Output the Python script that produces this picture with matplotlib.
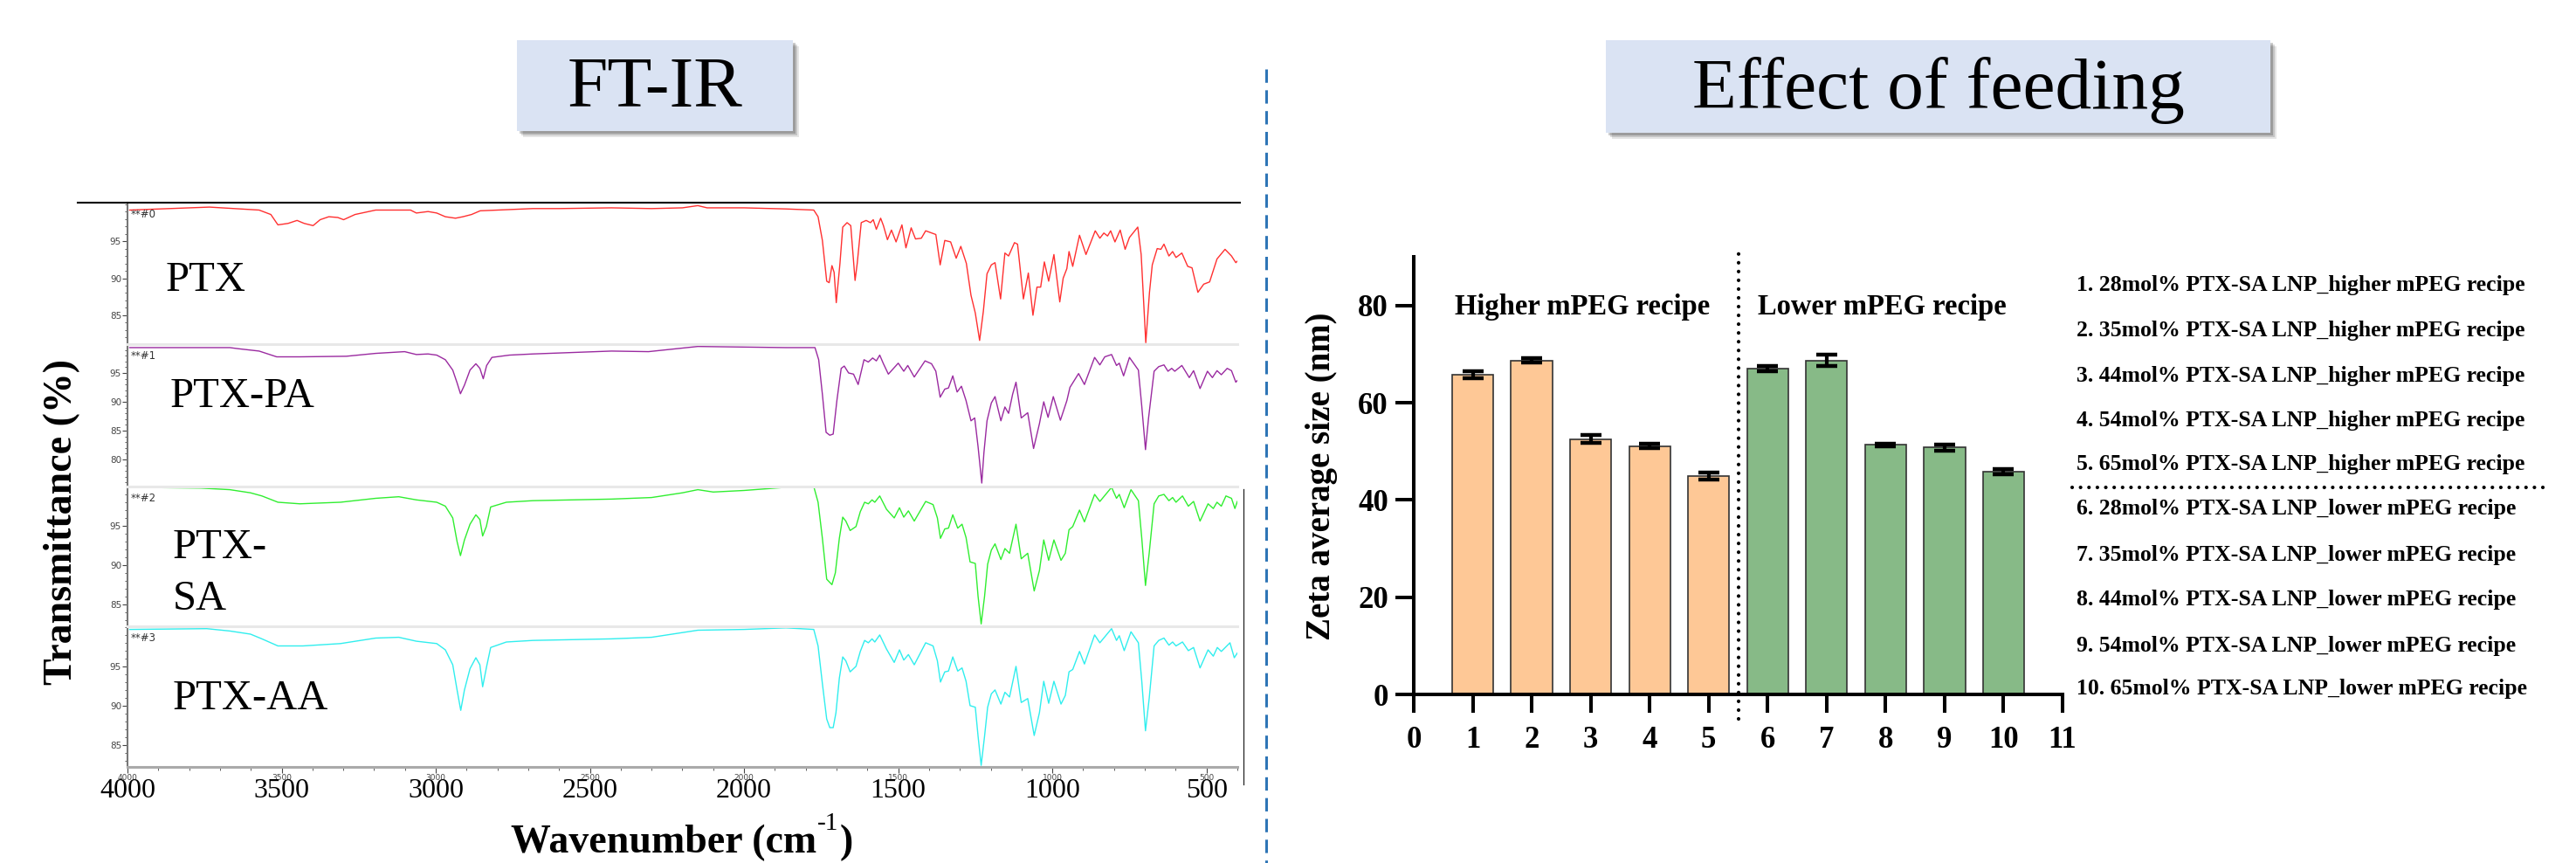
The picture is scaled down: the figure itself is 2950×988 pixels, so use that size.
import numpy as np
import matplotlib
matplotlib.use("Agg")
import matplotlib.pyplot as plt
from matplotlib.patches import Rectangle
from matplotlib.lines import Line2D

W, H = 2950, 988

# FT-IR spectra: wavenumber (cm-1) and transmittance (%)
ptx_wn = [3993, 3734, 3573, 3535, 3512, 3479, 3450, 3427, 3398, 3375, 3347, 3318, 3299, 3262,
          3195, 3082, 3063, 3025, 2997, 2969, 2936, 2912, 2884, 2856, 2685, 2600, 2430, 2300,
          2200, 2150, 2120, 2000, 1864, 1774, 1760, 1746, 1732, 1724, 1715, 1708, 1701, 1689,
          1680, 1666, 1654, 1640, 1633, 1620, 1604, 1590, 1581, 1571, 1557, 1548, 1535, 1522,
          1507, 1488, 1475, 1458, 1444, 1425, 1411, 1378, 1364, 1349, 1330, 1312, 1297, 1279,
          1264, 1250, 1236, 1224, 1212, 1198, 1186, 1168, 1154, 1142, 1123, 1113, 1094, 1078,
          1063, 1050, 1038, 1026, 1012, 995, 976, 965, 953, 946, 934, 912, 891, 861, 846, 833,
          821, 811, 797, 780, 764, 750, 723, 712, 703, 697, 685, 676, 660, 648, 638, 622, 610,
          599, 580, 561, 547, 528, 509, 490, 466, 440, 419, 405, 400]
ptx_t = [99.2, 99.6, 99.2, 98.6, 97.2, 97.4, 97.8, 97.4, 97.1, 97.9, 98.3, 98.2, 97.9, 98.6,
         99.2, 99.2, 98.8, 99.0, 98.8, 98.3, 98.1, 98.3, 98.6, 99.1, 99.4, 99.4, 99.5, 99.4,
         99.5, 99.8, 99.5, 99.5, 99.35, 99.2, 98.3, 95.1, 89.6, 89.4, 91.7, 90.8, 86.7, 92.0,
         96.9, 97.5, 97.1, 89.7, 92.0, 97.5, 97.8, 97.5, 97.9, 96.6, 98.1, 97.1, 95.2, 96.5,
         94.9, 97.2, 94.1, 96.8, 95.3, 95.4, 96.4, 95.9, 91.8, 95.1, 94.9, 92.7, 94.3, 92.0,
         87.7, 85.3, 81.6, 85.5, 90.6, 91.8, 92.1, 87.2, 93.4, 93.0, 94.8, 94.6, 87.2, 90.7,
         85.0, 88.8, 88.8, 92.2, 89.6, 93.2, 86.8, 90.0, 91.3, 93.6, 91.6, 95.8, 93.2, 96.4,
         95.4, 96.1, 95.7, 96.4, 94.9, 96.5, 93.9, 95.5, 96.9, 93.2, 86.1, 81.3, 88.1, 91.8,
         94.0, 93.9, 94.6, 93.0, 93.6, 92.8, 93.4, 91.6, 91.4, 88.1, 89.2, 89.5, 92.6, 93.9,
         93.0, 92.1, 92.3]

pa_wn = [3993, 3668, 3639, 3573, 3516, 3441, 3290, 3195, 3101, 3063, 3025, 2997, 2969, 2945,
         2931, 2920, 2907, 2889, 2870, 2857, 2846, 2835, 2818, 2761, 2685, 2430, 2310, 2150,
         1864, 1770, 1758, 1746, 1734, 1722, 1711, 1699, 1685, 1675, 1661, 1645, 1630, 1611,
         1597, 1583, 1571, 1560, 1548, 1532, 1500, 1482, 1469, 1448, 1413, 1392, 1378, 1364,
         1349, 1337, 1323, 1309, 1295, 1280, 1264, 1252, 1241, 1229, 1222, 1212, 1198, 1186,
         1167, 1154, 1142, 1129, 1118, 1101, 1080, 1061, 1042, 1028, 1014, 997, 974, 953, 943,
         915, 896, 863, 846, 830, 808, 792, 783, 769, 750, 721, 710, 698, 688, 670, 655, 638,
         625, 613, 603, 580, 556, 542, 521, 497, 481, 466, 452, 433, 419, 405, 400]
pa_t = [99.4, 99.4, 99.2, 98.8, 97.8, 97.8, 97.9, 98.4, 98.7, 98.2, 98.3, 98.1, 97.3, 95.5,
        93.3, 91.4, 92.9, 95.5, 96.6, 95.8, 94.0, 96.3, 97.7, 98.1, 98.3, 98.8, 98.7, 99.6,
        99.4, 99.4, 97.3, 91.3, 84.7, 84.2, 84.4, 90.2, 95.8, 96.2, 95.0, 94.8, 93.0, 97.3,
        96.9, 97.6, 97.1, 98.1, 96.6, 94.8, 96.7, 95.3, 96.3, 94.3, 97.1, 96.6, 95.3, 90.8,
        92.2, 92.4, 94.5, 91.7, 92.7, 90.2, 86.7, 87.2, 82.2, 75.9, 81.2, 86.7, 89.8, 90.9,
        86.7, 89.1, 88.0, 91.3, 93.4, 87.2, 88.1, 81.9, 86.2, 90.0, 87.3, 90.9, 86.8, 90.2,
        92.5, 94.9, 93.0, 97.7, 96.4, 97.8, 98.2, 96.3, 96.7, 94.5, 97.7, 95.5, 89.2, 81.7,
        87.2, 95.3, 96.1, 96.4, 95.3, 95.8, 95.3, 96.3, 94.2, 95.4, 92.3, 95.3, 94.2, 95.4,
        94.7, 95.8, 95.4, 93.4, 93.7]

sa_wn = [3993, 3762, 3668, 3601, 3564, 3512, 3441, 3309, 3195, 3120, 3063, 2997, 2969, 2945,
         2931, 2920, 2907, 2889, 2870, 2857, 2848, 2836, 2822, 2771, 2685, 2430, 2300, 2200,
         2150, 2100, 2000, 1864, 1774, 1760, 1746, 1732, 1715, 1704, 1691, 1680, 1670, 1656,
         1637, 1623, 1609, 1597, 1585, 1576, 1560, 1538, 1513, 1496, 1482, 1467, 1448, 1411,
         1387, 1373, 1363, 1349, 1337, 1323, 1307, 1293, 1280, 1267, 1250, 1241, 1231, 1220,
         1210, 1198, 1186, 1167, 1154, 1139, 1118, 1101, 1080, 1059, 1042, 1028, 1012, 995,
         972, 958, 946, 934, 912, 896, 863, 846, 808, 792, 783, 767, 745, 721, 710, 698, 686,
         670, 655, 638, 622, 610, 599, 578, 559, 542, 521, 495, 478, 466, 452, 437, 419, 408,
         400]
sa_t = [99.9, 99.8, 99.6, 99.2, 98.8, 98.0, 97.8, 98.0, 98.5, 98.7, 98.3, 98.0, 97.5, 96.0,
        93.0, 91.2, 93.2, 95.2, 96.4, 95.8, 93.7, 94.9, 97.4, 98.0, 98.2, 98.4, 98.6, 99.2,
        99.6, 99.3, 99.5, 99.9, 100.0, 98.0, 93.4, 88.2, 87.5, 89.0, 93.4, 96.1, 95.6, 94.4,
        94.9, 96.8, 98.0, 97.8, 98.3, 98.0, 98.8, 97.1, 96.0, 97.3, 96.1, 96.9, 95.6, 98.1,
        97.7, 96.0, 93.4, 94.6, 94.7, 96.4, 94.7, 95.2, 93.5, 90.4, 90.2, 86.0, 82.5, 86.0,
        90.1, 91.9, 92.7, 90.7, 92.1, 91.5, 95.2, 90.8, 91.5, 86.7, 89.3, 93.2, 90.6, 93.2,
        90.6, 91.5, 94.5, 94.9, 97.0, 95.5, 99.0, 98.1, 99.9, 98.5, 99.0, 97.3, 99.6, 98.2,
        93.4, 87.4, 91.5, 97.8, 98.8, 99.0, 98.2, 98.6, 98.0, 98.8, 97.5, 98.1, 95.6, 97.8,
        97.2, 98.0, 97.5, 98.8, 98.5, 97.2, 98.1]

aa_wn = [3993, 3743, 3668, 3601, 3564, 3512, 3431, 3309, 3195, 3120, 3063, 2997, 2969, 2945,
         2931, 2919, 2907, 2889, 2870, 2857, 2848, 2835, 2822, 2771, 2685, 2430, 2300, 2150,
         2000, 1864, 1774, 1760, 1746, 1732, 1722, 1711, 1702, 1691, 1680, 1670, 1656, 1637,
         1623, 1609, 1597, 1585, 1576, 1560, 1538, 1513, 1496, 1482, 1467, 1448, 1411, 1387,
         1373, 1363, 1349, 1337, 1323, 1307, 1293, 1280, 1267, 1250, 1241, 1231, 1220, 1210,
         1198, 1186, 1167, 1154, 1139, 1118, 1101, 1080, 1059, 1042, 1028, 1012, 995, 972, 958,
         946, 934, 912, 896, 863, 846, 808, 792, 783, 767, 745, 721, 710, 698, 686, 670, 655,
         638, 622, 610, 599, 578, 559, 542, 521, 495, 478, 465, 452, 424, 410, 400]
aa_t = [99.7, 99.8, 99.5, 99.1, 98.5, 97.6, 97.6, 97.9, 98.6, 98.7, 98.2, 97.9, 97.1, 95.2,
        92.0, 89.4, 92.0, 94.7, 96.1, 95.2, 92.4, 95.0, 97.4, 98.1, 98.3, 98.5, 98.7, 99.6,
        99.7, 99.9, 99.7, 97.6, 92.8, 88.3, 87.2, 87.2, 89.1, 93.5, 96.2, 95.7, 94.3, 95.0,
        96.9, 98.3, 98.0, 98.5, 98.1, 99.0, 97.2, 95.5, 97.1, 95.8, 96.5, 95.2, 98.0, 97.6,
        95.7, 93.0, 94.3, 94.4, 96.2, 94.4, 94.8, 93.1, 90.0, 89.8, 86.1, 82.4, 86.1, 89.8,
        91.5, 92.0, 90.2, 91.7, 91.1, 95.0, 90.4, 90.9, 86.2, 89.1, 93.1, 90.3, 93.1, 90.2,
        91.3, 94.3, 94.6, 96.9, 95.3, 99.0, 98.0, 99.8, 98.3, 98.9, 97.0, 99.4, 98.0, 93.1,
        86.8, 90.9, 97.6, 98.3, 98.6, 97.7, 98.1, 97.6, 98.1, 97.0, 97.4, 94.8, 97.1, 96.3,
        97.4, 96.9, 98.0, 96.1, 96.7]

spectra = [(ptx_wn, ptx_t), (pa_wn, pa_t), (sa_wn, sa_t), (aa_wn, aa_t)]
strip_tags = ["**#0", "**#1", "**#2", "**#3"]
strip_colors = ["#ff3030", "#9a2aa0", "#30ee30", "#30eeee"]
strip_ylim = [(81.1, 100.2), (75.3, 100.0), (82.2, 100.0), (82.2, 100.1)]
strip_ticks = [[85, 90, 95], [80, 85, 90, 95], [85, 90, 95], [85, 90, 95]]
wn_ticks = [4000, 3500, 3000, 2500, 2000, 1500, 1000, 500]

# zeta average size
bar_pos = np.arange(1, 11)
bar_size = [65.8, 68.7, 52.5, 51.1, 44.9, 67.0, 68.7, 51.3, 50.8, 45.8]
bar_err = [0.7, 0.5, 0.8, 0.5, 0.7, 0.6, 1.1, 0.3, 0.6, 0.6]
legend_items = ["1. 28mol% PTX-SA LNP_higher mPEG recipe",
                "2. 35mol% PTX-SA LNP_higher mPEG recipe",
                "3. 44mol% PTX-SA LNP_higher mPEG recipe",
                "4. 54mol% PTX-SA LNP_higher mPEG recipe",
                "5. 65mol% PTX-SA LNP_higher mPEG recipe",
                "6. 28mol% PTX-SA LNP_lower mPEG recipe",
                "7. 35mol% PTX-SA LNP_lower mPEG recipe",
                "8. 44mol% PTX-SA LNP_lower mPEG recipe",
                "9. 54mol% PTX-SA LNP_lower mPEG recipe",
                "10. 65mol% PTX-SA LNP_lower mPEG recipe"]

SERIF = "Liberation Serif"
plt.rcParams["font.family"] = [SERIF, "DejaVu Serif"]


def box(x0, y0, x1, y1):
    return [x0 / W, 1 - y1 / H, (x1 - x0) / W, (y1 - y0) / H]


def ftext(x, y, s, **kw):
    return fig.text(x / W, 1 - y / H, s, **kw)


def title_box(x0, y0, x1, y1, label):
    # soft shadow to the lower right, then the pale blue box
    for i, a in enumerate([0.10, 0.14, 0.20]):
        d = 7 - 2 * i
        fig.patches.append(Rectangle(((x0 + d) / W, 1 - (y1 + d) / H), (x1 - x0) / W, (y1 - y0) / H,
                                     transform=fig.transFigure, color="k", alpha=a, lw=0))
    fig.patches.append(Rectangle((x0 / W, 1 - y1 / H), (x1 - x0) / W, (y1 - y0) / H,
                                 transform=fig.transFigure, facecolor="#dae3f3", lw=0))
    ftext((x0 + x1) / 2, (y0 + y1) / 2 + 4, label, ha="center", va="center", fontsize=60)


fig = plt.figure(figsize=(W / 100, H / 100), dpi=100)
renderer = fig.canvas.get_renderer()

# ---------------- FT-IR panel
title_box(592, 46, 908, 150, "FT-IR")
tops = [232, 394, 557, 717, 878]
axs = []
for i in range(4):
    ax = fig.add_axes(box(146, tops[i], 1417, tops[i + 1]))
    wn, t = spectra[i]
    ax.plot(wn, t, color=strip_colors[i], lw=1.0)
    ax.set_xlim(4000, 400)
    ax.set_ylim(*strip_ylim[i])
    ax.set_yticks(strip_ticks[i])
    ax.set_yticks(np.arange(np.ceil(strip_ylim[i][0]), strip_ylim[i][1], 1), minor=True)
    ax.tick_params(axis="y", which="major", direction="out", length=4, width=0.8,
                   labelsize=7.5, pad=1, colors="#444444", labelfontfamily="DejaVu Sans")
    ax.tick_params(axis="y", which="minor", direction="out", length=2, width=0.6, colors="#444444")
    ax.spines["left"].set_color("#777777")
    ax.spines["left"].set_linewidth(1.5)
    ax.spines["right"].set_visible(False)
    ax.spines["top"].set_color("#e8e8e8")
    ax.spines["top"].set_linewidth(2.2)
    ax.spines["bottom"].set_visible(False)
    ax.patch.set_alpha(0)
    ax.text(0.003, 0.915, strip_tags[i], transform=ax.transAxes, fontsize=8.5,
            family="DejaVu Sans", color="#333333", va="center")
    if i < 3:
        ax.tick_params(axis="x", which="both", bottom=False, labelbottom=False)
    axs.append(ax)
axs[0].spines["top"].set_visible(False)

ax = axs[3]
ax.spines["bottom"].set_visible(True)
ax.spines["bottom"].set_color("#aaaaaa")
ax.spines["bottom"].set_linewidth(2.2)
ax.set_xticks(wn_ticks)
ax.set_xticklabels([str(v) for v in wn_ticks])
ax.set_xticks(np.arange(4000, 399, -100), minor=True)
ax.tick_params(axis="x", which="major", length=5, width=0.8, colors="#444444",
               labelsize=6.5, pad=1, labelfontfamily="DejaVu Sans")
ax.tick_params(axis="x", which="minor", length=3, width=0.6, colors="#444444")
for v in wn_ticks:
    ax.text(v, -0.17, str(v), transform=ax.get_xaxis_transform(), ha="center",
            va="center", fontsize=23)

fig.lines.append(Line2D([89 / W, 1420 / W], [1 - 232 / H] * 2, color="k", lw=1.5,
                        transform=fig.transFigure))
fig.lines.append(Line2D([1424 / W] * 2, [1 - 560 / H, 1 - 898 / H], color="#222222", lw=0.9,
                        transform=fig.transFigure))

ftext(190, 333, "PTX", fontsize=35, va="baseline")
ftext(195, 466, "PTX-PA", fontsize=35, va="baseline")
ftext(198, 639, "PTX-", fontsize=35, va="baseline")
ftext(198, 698, "SA", fontsize=35, va="baseline")
ftext(198, 812, "PTX-AA", fontsize=35, va="baseline")

ftext(71, 598, "Transmittance (%)", rotation=90, fontsize=33, fontweight="bold",
      ha="center", va="center")
# x label with a plain "-1" superscript, pieced together left to right
xl = ftext(585, 976, "Wavenumber (cm", fontsize=33, fontweight="bold", va="baseline")
x_end = xl.get_window_extent(renderer).x1
sup = fig.text(x_end / W + 1 / W, 1 - 950 / H, "-1", fontsize=21, va="baseline")
x_end = sup.get_window_extent(renderer).x1
fig.text(x_end / W + 1 / W, 1 - 976 / H, ")", fontsize=33, fontweight="bold", va="baseline")

# divider
fig.lines.append(Line2D([1450 / W] * 2, [1 - 79 / H, 0], color="#2e75b6", lw=2.2,
                        dashes=(5, 2.8), transform=fig.transFigure))

# ---------------- bar panel
title_box(1839, 46, 2600, 152, "Effect of feeding")
bax = fig.add_axes(box(1619, 294, 2362, 795))
orange, green = "#fec896", "#87ba87"
bax.bar(bar_pos[:5], bar_size[:5], width=0.7, color=orange, edgecolor="#333333", lw=1.2, zorder=2)
bax.bar(bar_pos[5:], bar_size[5:], width=0.7, color=green, edgecolor="#333333", lw=1.2, zorder=2)
bax.errorbar(bar_pos, bar_size, yerr=bar_err, fmt="none", ecolor="k", elinewidth=3,
             capsize=8.6, capthick=3.2, zorder=3)
bax.set_xlim(0, 11)
bax.set_ylim(0, 90)
bax.set_xticks(range(12))
bax.set_yticks([0, 20, 40, 60, 80])
for s in ["top", "right"]:
    bax.spines[s].set_visible(False)
for s in ["left", "bottom"]:
    bax.spines[s].set_linewidth(2.9)
bax.tick_params(direction="out", length=15, width=2.9, labelsize=25)
bax.tick_params(axis="x", pad=11)
bax.tick_params(axis="y", pad=6)
for lab in bax.get_xticklabels() + bax.get_yticklabels():
    lab.set_fontweight("bold")
bax.plot([5.5, 5.5], [-5, 91], color="k", lw=3, ls=(0, (0.01, 2.4)),
         dash_capstyle="round", clip_on=False, zorder=4)
bax.text(2.86, 79.7, "Higher mPEG recipe", ha="center", va="center", fontsize=23.5,
         fontweight="bold")
bax.text(7.94, 79.7, "Lower mPEG recipe", ha="center", va="center", fontsize=23.5,
         fontweight="bold")
ftext(1513, 545, "Zeta average size (nm)", rotation=90, fontsize=28, fontweight="bold",
      ha="center", va="center")

leg_y = [326, 378, 430, 481, 531, 583, 635, 687, 739, 788]
for y, s in zip(leg_y, legend_items):
    ftext(2378, y, s, fontsize=18.5, fontweight="bold", va="center")
fig.lines.append(Line2D([2373 / W, 2914 / W], [1 - 558 / H] * 2, color="k", lw=3,
                        ls=(0, (0.01, 2.3)), dash_capstyle="round", transform=fig.transFigure))

fig.savefig("out.png", dpi=100)
